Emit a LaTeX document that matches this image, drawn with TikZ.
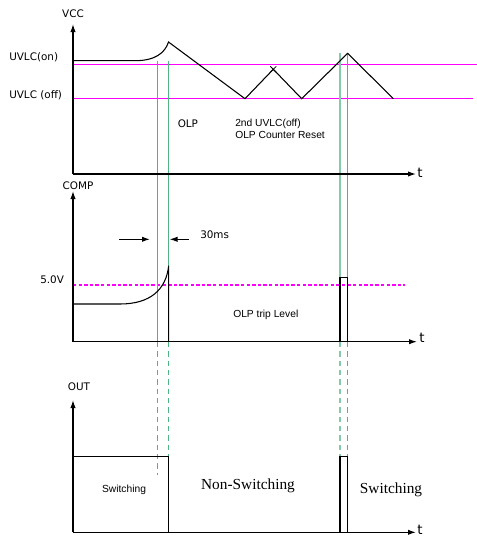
\documentclass[tikz,border=0pt]{standalone}
\usepackage{fontspec}
\setmainfont{Liberation Sans}
\newfontfamily\serifx{Liberation Serif}
\newfontfamily\dejav{DejaVu Sans}
\usetikzlibrary{arrows.meta,calc}
\definecolor{mag}{RGB}{255,0,255}
\definecolor{grn}{RGB}{80,180,130}
\tikzset{
  axis/.style={line width=0.9pt,-{Latex[length=6pt,width=4pt]}},
  sig/.style={line width=0.8pt,black},
  level/.style={mag,line width=1pt},
  marker/.style={grn,line width=1.1pt},
  markerd/.style={grn,line width=1.1pt,dash pattern=on 4pt off 3pt},
  lbl/.style={font=\dejav\fontsize{7.8}{9}\selectfont,inner sep=0pt},
  sml/.style={font=\fontsize{7.7}{9}\selectfont,inner sep=0pt,align=left},
  big/.style={font=\serifx\fontsize{11.5}{13}\selectfont,inner sep=0pt},
  dim/.style={line width=0.9pt,-{Latex[length=6pt,width=4pt]}}
}
\begin{document}
\begin{tikzpicture}[x=0.75pt,y=-0.75pt]
\useasboundingbox (0,0) rectangle (477,536);
% ---------- coordinates
\coordinate (o1) at (73,174);
\coordinate (y1) at (73,24);
\coordinate (x1) at (416,174);
\coordinate (o2) at (73,341.7);
\coordinate (y2) at (73,191);
\coordinate (x2) at (417,341.7);
\coordinate (o3) at (73,532.3);
\coordinate (y3) at (73,400);
\coordinate (x3) at (416,532.3);
% ---------- levels
\coordinate (onA) at (73,64.3); \coordinate (onB) at (477,64.3);
\coordinate (offA) at (73,98.7); \coordinate (offB) at (473,98.7);
\draw[level] (onA) -- (onB);
\draw[level] (offA) -- (offB);
\coordinate (trA) at (73,285); \coordinate (trB) at (405,285);
\draw[level,dash pattern=on 2.6pt off 1.6pt,line width=0.85pt] (trA) -- (trB);
% ---------- green markers
\coordinate (g1a) at (157.3,60.7); \coordinate (g1b) at (157.3,342); \coordinate (g1c) at (157.3,475);
\coordinate (g2a) at (168.7,60.7); \coordinate (g2b) at (168.7,342); \coordinate (g2c) at (168.7,456.3);
\coordinate (g3a) at (340,52.7); \coordinate (g3b) at (340,342); \coordinate (g3c) at (340,456.3);
\coordinate (g4a) at (347.3,53.3); \coordinate (g4b) at (347.3,342); \coordinate (g4c) at (347.3,456.3);
\draw[marker] (g1a) -- (g1b); \draw[markerd] (g1b) -- (g1c);
\draw[marker] (g2a) -- (g2b); \draw[markerd] (g2b) -- (g2c);
\draw[marker,grn!70!white,line width=1.5pt] (g3a) -- (g3b); \draw[markerd,grn!70!white,line width=1.5pt] (g3b) -- (g3c);
\draw[marker] (g4a) -- (g4b); \draw[markerd] (g4b) -- (g4c);
% ---------- axes
\draw[axis] (o1) -- (y1);
\draw[axis] (o1) -- (x1);
\draw[axis] (o2) -- (y2);
\draw[axis] (o2) -- (x2);
\draw[axis] (o3) -- (y3);
\draw[axis] (o3) -- (x3);
% ---------- VCC waveform
\coordinate (v0) at (73,60.7);
\coordinate (v1) at (135,60.7);
\coordinate (v2) at (168.5,42);
\coordinate (v3) at (245,98.7);
\coordinate (v4) at (273.3,69.3);
\coordinate (v5) at (301.7,98.7);
\coordinate (v6) at (347.7,53.3);
\coordinate (v7) at (393.3,98.7);
\draw[sig] (v0) -- (v1) .. controls (155,60.7) and (165,53) .. (v2)
  -- (v3) -- (v4) -- (v5) -- (v6) -- (v7);
\draw[sig,line width=0.6pt] ($(v4)+(-3,-3)$) -- ($(v4)+(3,3)$);
\draw[sig,line width=0.6pt] ($(v4)+(3,-3)$) -- ($(v4)+(-3,3)$);
% ---------- COMP waveform
\coordinate (c0) at (73,304);
\coordinate (c1) at (120,304);
\coordinate (c2) at (168.7,265.7);
\coordinate (c3) at (168.7,341.7);
\draw[sig] (c0) -- (c1) .. controls (150,304) and (166,290) .. (c2) -- (c3);
\coordinate (p1) at (340,341.7); \coordinate (p2) at (340,277.3);
\coordinate (p3) at (347.3,277.3); \coordinate (p4) at (347.3,341.7);
\draw[sig] (p1) -- (p2) -- (p3) -- (p4);
% ---------- 30ms dimension
\coordinate (d1) at (119,239.3); \coordinate (d2) at (150,239.3);
\coordinate (d3) at (189,239.3); \coordinate (d4) at (169.5,239.3);
\draw[dim] (d1) -- (d2);
\draw[dim] (d3) -- (d4);
% ---------- OUT waveform
\coordinate (u0) at (73,456.3);
\coordinate (u1) at (168.7,456.3);
\coordinate (u2) at (168.7,532.3);
\draw[sig] (u0) -- (u1) -- (u2);
\coordinate (q1) at (340,532.3); \coordinate (q2) at (340,456.3);
\coordinate (q3) at (347.3,456.3); \coordinate (q4) at (347.3,532.3);
\draw[sig] (q1) -- (q2) -- (q3) -- (q4);
% ---------- labels
\node[lbl] (vcc) at (73,14) {VCC};
\node[lbl,anchor=west] (uon) at (9,57) {UVLC(on)};
\node[lbl,anchor=west] (uoff) at (9,95) {UVLC (off)};
\node[lbl,anchor=west] (t1) at (417,173) {\fontsize{10}{10}\selectfont t};
\node[lbl,anchor=west] (olp) at (177.5,124) {OLP};
\node[sml,anchor=north west] (reset) at (235,119) {2nd UVLC(off)\\[-0.5pt]OLP Counter Reset};
\node[lbl] (comp) at (78,186) {COMP};
\node[lbl,anchor=west] (five) at (40,280) {5.0V};
\node[lbl,anchor=west] (ms) at (200,235) {30ms};
\node[sml,anchor=west] (trip) at (233,315) {OLP trip Level};
\node[lbl,anchor=west] (t2) at (419,338) {\fontsize{10}{10}\selectfont t};
\node[lbl] (out) at (79,387) {OUT};
\node[sml] (sw1) at (124,490) {Switching};
\node[big] (nsw) at (248,486) {Non-Switching};
\node[big] (sw2) at (391,490) {Switching};
\node[lbl,anchor=west] (t3) at (417,530) {\fontsize{10}{10}\selectfont t};
\end{tikzpicture}
\end{document}
